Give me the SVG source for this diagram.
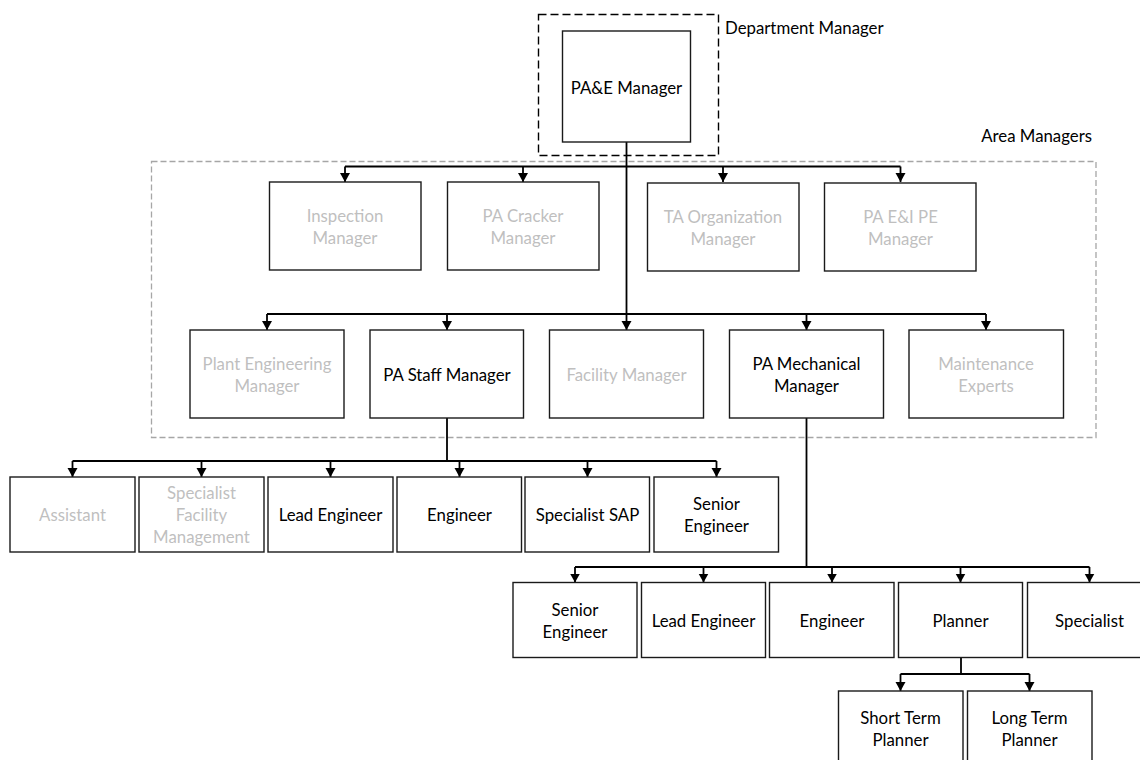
<svg xmlns="http://www.w3.org/2000/svg" width="1140" height="760" viewBox="0 0 1140 760">
<defs>
<marker id="arr" markerUnits="userSpaceOnUse" markerWidth="11" markerHeight="11" refX="9" refY="5" orient="auto">
<path d="M0,0 L9,5 L0,10 Z" fill="#000"/>
</marker>
<style>
.box{fill:#fff;stroke:#1a1a1a;stroke-width:1.4}
.t{font-family:Lato,"Liberation Sans",sans-serif;font-size:16.8px;text-anchor:middle;dominant-baseline:central;fill:#000}
.g{fill:#bfbfbf}
.lbl{font-family:Lato,"Liberation Sans",sans-serif;font-size:16.8px;fill:#000;dominant-baseline:central}
.c{fill:none;stroke:#000;stroke-width:1.8}
.ca{fill:none;stroke:#000;stroke-width:1.8;marker-end:url(#arr)}
</style>
</defs>
<rect width="1140" height="760" fill="#fff"/>

<g id="area-frame">
<rect x="151.5" y="161.5" width="944.5" height="276" fill="none" stroke="#a6a6a6" stroke-width="1.3" stroke-dasharray="6,3"/>
<text class="lbl" x="1092" y="135" text-anchor="end">Area Managers</text>
</g>
<g id="dept-frame">
<rect x="538.5" y="14.5" width="180" height="141" fill="none" stroke="#000" stroke-width="1.4" stroke-dasharray="8,4"/>
<text class="lbl" x="725" y="27">Department Manager</text>
</g>

<g id="connectors">
<path class="c" d="M626.5,142 V314"/>
<path class="c" d="M345,166.5 H900.5"/>
<path class="ca" d="M345,166.5 V182"/>
<path class="ca" d="M523,166.5 V182"/>
<path class="ca" d="M723,166.5 V182"/>
<path class="ca" d="M900.5,166.5 V182"/>
<path class="c" d="M267,314 H986"/>
<path class="ca" d="M267,314 V330"/>
<path class="ca" d="M447,314 V330"/>
<path class="ca" d="M626.5,314 V330"/>
<path class="ca" d="M806.5,314 V330"/>
<path class="ca" d="M986,314 V330"/>
<path class="c" d="M447,418 V461 M72.5,461 H716.5"/>
<path class="ca" d="M72.5,461 V477"/>
<path class="ca" d="M201.5,461 V477"/>
<path class="ca" d="M330.5,461 V477"/>
<path class="ca" d="M459.5,461 V477"/>
<path class="ca" d="M587.5,461 V477"/>
<path class="ca" d="M716.5,461 V477"/>
<path class="c" d="M806.5,418 V567 M575,567 H1089.5"/>
<path class="ca" d="M575,567 V582.5"/>
<path class="ca" d="M703.5,567 V582.5"/>
<path class="ca" d="M832,567 V582.5"/>
<path class="ca" d="M960.5,567 V582.5"/>
<path class="ca" d="M1089.5,567 V582.5"/>
<path class="c" d="M961,657.5 V674 M900.5,674 H1029.5"/>
<path class="ca" d="M900.5,674 V691"/>
<path class="ca" d="M1029.5,674 V691"/>
</g>

<g id="pae-manager"><rect class="box" x="562.5" y="31" width="128" height="111"/><text class="t" x="626.5" y="87">PA&amp;E Manager</text></g>

<g id="inspection-manager"><rect class="box" x="269.5" y="182" width="151.5" height="88"/><text class="t g" x="345" y="215">Inspection</text><text class="t g" x="345" y="237.5">Manager</text></g>
<g id="pa-cracker-manager"><rect class="box" x="447.5" y="182" width="151.5" height="88"/><text class="t g" x="523" y="215">PA Cracker</text><text class="t g" x="523" y="237.5">Manager</text></g>
<g id="ta-organization-manager"><rect class="box" x="647.5" y="183" width="151.5" height="88"/><text class="t g" x="723" y="216">TA Organization</text><text class="t g" x="723" y="238.5">Manager</text></g>
<g id="pa-ei-pe-manager"><rect class="box" x="824.5" y="183" width="151.5" height="88"/><text class="t g" x="900.5" y="216">PA E&amp;I PE</text><text class="t g" x="900.5" y="238.5">Manager</text></g>

<g id="plant-engineering-manager"><rect class="box" x="190" y="330" width="154" height="88"/><text class="t g" x="267" y="363">Plant Engineering</text><text class="t g" x="267" y="385.5">Manager</text></g>
<g id="pa-staff-manager"><rect class="box" x="370" y="330" width="153.5" height="88"/><text class="t" x="447" y="374">PA Staff Manager</text></g>
<g id="facility-manager"><rect class="box" x="549.5" y="330" width="154" height="88"/><text class="t g" x="626.5" y="374">Facility Manager</text></g>
<g id="pa-mechanical-manager"><rect class="box" x="729.5" y="330" width="154" height="88"/><text class="t" x="806.5" y="363">PA Mechanical</text><text class="t" x="806.5" y="385.5">Manager</text></g>
<g id="maintenance-experts"><rect class="box" x="909" y="330" width="154.5" height="88"/><text class="t g" x="986" y="363">Maintenance</text><text class="t g" x="986" y="385.5">Experts</text></g>

<g id="assistant"><rect class="box" x="10" y="477" width="125" height="75"/><text class="t g" x="72.5" y="514.5">Assistant</text></g>
<g id="specialist-facility-management"><rect class="box" x="139" y="477" width="125" height="75"/><text class="t g" x="201.5" y="492.5">Specialist</text><text class="t g" x="201.5" y="514.5">Facility</text><text class="t g" x="201.5" y="536.5">Management</text></g>
<g id="staff-lead-engineer"><rect class="box" x="268" y="477" width="125" height="75"/><text class="t" x="330.5" y="514.5">Lead Engineer</text></g>
<g id="staff-engineer"><rect class="box" x="397" y="477" width="124.5" height="75"/><text class="t" x="459.5" y="514.5">Engineer</text></g>
<g id="specialist-sap"><rect class="box" x="525" y="477" width="124.5" height="75"/><text class="t" x="587.5" y="514.5">Specialist SAP</text></g>
<g id="staff-senior-engineer"><rect class="box" x="654" y="477" width="124.5" height="75"/><text class="t" x="716.5" y="503.5">Senior</text><text class="t" x="716.5" y="525.5">Engineer</text></g>

<g id="mech-senior-engineer"><rect class="box" x="513" y="582.5" width="124" height="75"/><text class="t" x="575" y="609">Senior</text><text class="t" x="575" y="631">Engineer</text></g>
<g id="mech-lead-engineer"><rect class="box" x="641.5" y="582.5" width="124" height="75"/><text class="t" x="703.5" y="620">Lead Engineer</text></g>
<g id="mech-engineer"><rect class="box" x="769.5" y="582.5" width="124.5" height="75"/><text class="t" x="832" y="620">Engineer</text></g>
<g id="planner"><rect class="box" x="898.5" y="582.5" width="124" height="75"/><text class="t" x="960.5" y="620">Planner</text></g>
<g id="specialist"><rect class="box" x="1027.5" y="582.5" width="124" height="75"/><text class="t" x="1089.5" y="620">Specialist</text></g>

<g id="short-term-planner"><rect class="box" x="838.5" y="691" width="124.5" height="75"/><text class="t" x="900.5" y="717">Short Term</text><text class="t" x="900.5" y="739">Planner</text></g>
<g id="long-term-planner"><rect class="box" x="967.5" y="691" width="124.5" height="75"/><text class="t" x="1029.5" y="717">Long Term</text><text class="t" x="1029.5" y="739">Planner</text></g>
</svg>
